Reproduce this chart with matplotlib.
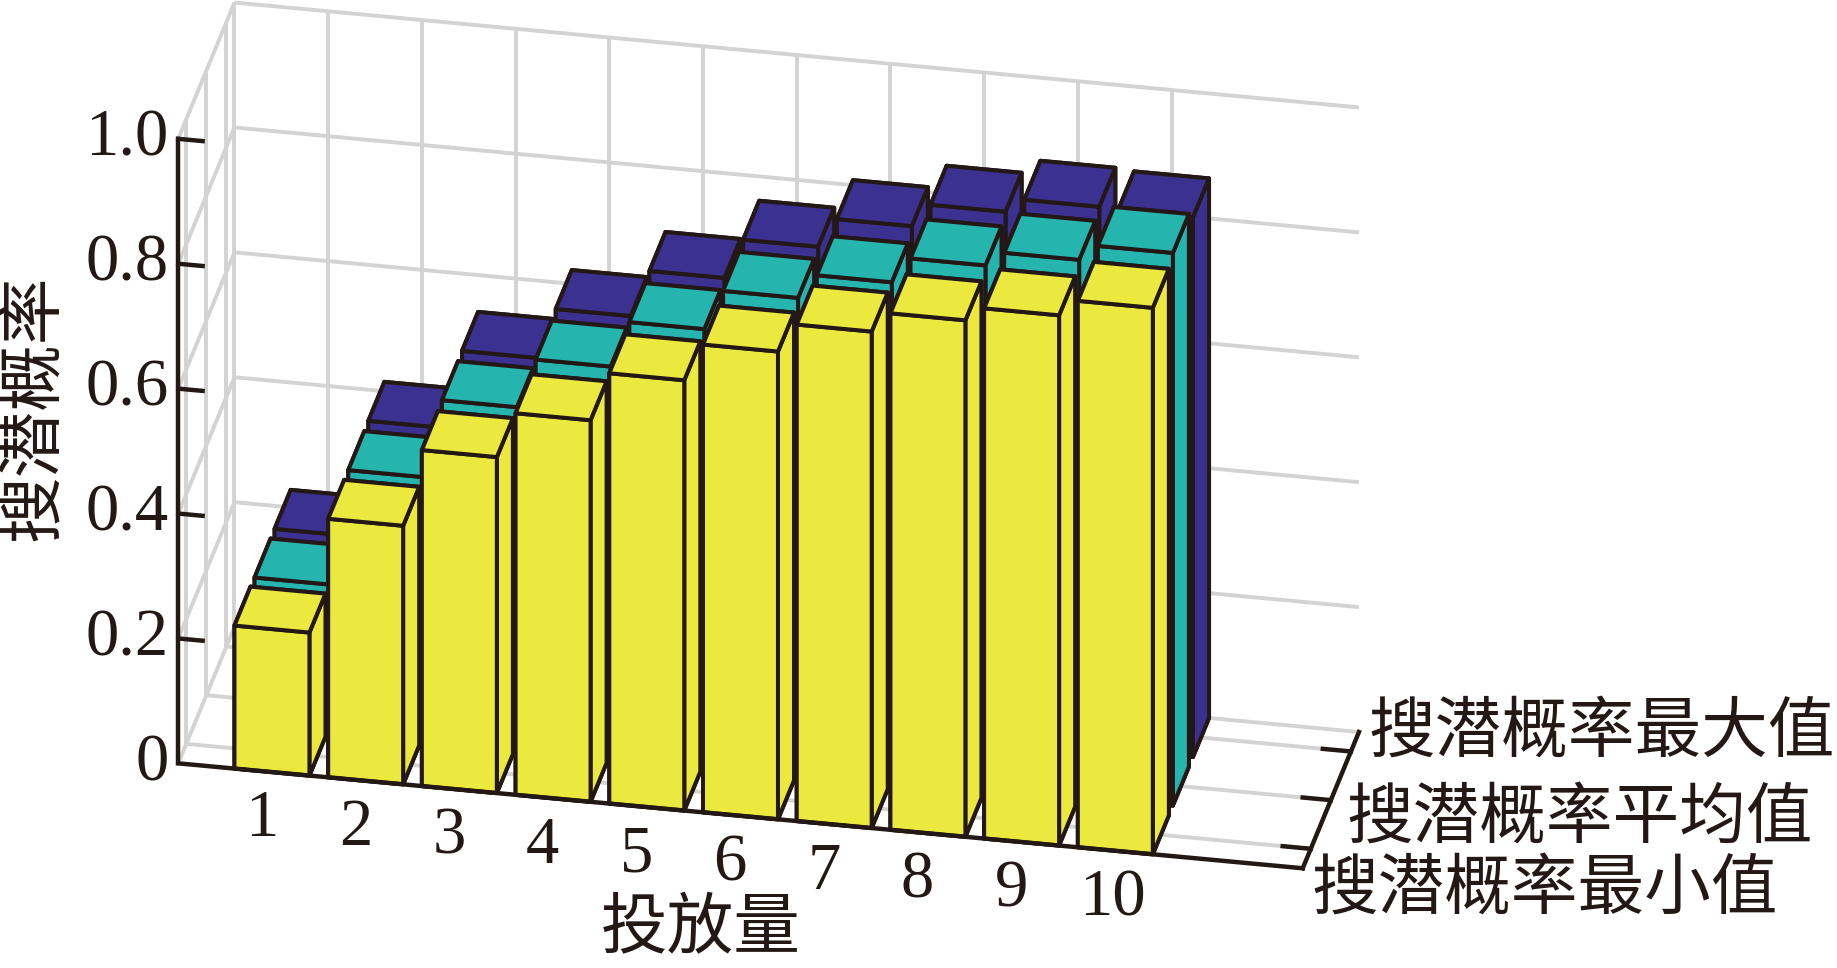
import matplotlib
matplotlib.use("Agg")
import matplotlib.pyplot as plt
from mpl_toolkits.mplot3d import proj3d

CJK = ['Noto Sans CJK SC', 'DejaVu Sans']
SERIF = ['Liberation Serif', 'DejaVu Serif']

doses = [1, 2, 3, 4, 5, 6, 7, 8, 9, 10]
series_names = ['搜潜概率最小值', '搜潜概率平均值', '搜潜概率最大值']
min_vals = [0.229, 0.414, 0.538, 0.611, 0.689, 0.749, 0.795, 0.827, 0.849, 0.875]
mean_vals = [0.228, 0.414, 0.540, 0.619, 0.693, 0.757, 0.796, 0.837, 0.860, 0.885]
max_vals = [0.228, 0.415, 0.541, 0.622, 0.697, 0.761, 0.808, 0.845, 0.867, 0.864]
z_ticks = [0, 0.2, 0.4, 0.6, 0.8, 1.0]
z_labels = ['0', '0.2', '0.4', '0.6', '0.8', '1.0']
x_title = '投放量'
z_title = '搜潜概率'
colors = ['#ECE93E', '#26B4AE', '#3A3190']

INK = '#231815'
GRID = '#D3D3D3'
W, H = 1837, 968
XMIN, XMAX = 0, 12
YMIN, YMAX = 0.6, 3.4
ZMIN, ZMAX = 0, 1

fig = plt.figure(figsize=(W / 100, H / 100), dpi=100, facecolor='white')
S = 1339
ax = fig.add_axes([81 / W, -155 / H, S / W, S / H], projection='3d')
ax.set_proj_type('ortho')
ax.view_init(elev=28.4, azim=-78.9)
ax.set_box_aspect((1146, 292, 710), zoom=1)
ax.set_axis_off()
ax.computed_zorder = False

all_vals = [min_vals, mean_vals, max_vals]
z = 10
for row in [2, 1, 0]:
    for i, d in enumerate(doses):
        ax.bar3d(d - 0.4, row + 1 - 0.4, 0, 0.8, 0.8, all_vals[row][i],
                 color=colors[row], edgecolor=INK, linewidth=2.9,
                 shade=False, zorder=z)
        z += 1


def gline(xs, ys, zs):
    ax.plot(xs, ys, zs, color=GRID, lw=2.8, zorder=1, solid_capstyle='butt')


def iline(xs, ys, zs, lw=3.2):
    ax.plot(xs, ys, zs, color=INK, lw=lw, zorder=100, solid_capstyle='projecting')


for t in z_ticks:
    gline([XMIN, XMIN], [YMIN, YMAX], [t, t])
    gline([XMIN, XMAX], [YMAX, YMAX], [t, t])
gline([XMIN, XMIN], [YMAX, YMAX], [ZMIN, ZMAX])
for d in doses:
    gline([d, d], [YMAX, YMAX], [ZMIN, ZMAX])
    gline([d, d], [YMIN, YMAX], [0, 0])
for r in [1, 2, 3]:
    gline([XMIN, XMIN], [r, r], [ZMIN, ZMAX])
    gline([XMIN, XMAX], [r, r], [0, 0])

iline([XMIN, XMAX], [YMIN, YMIN], [0, 0])
iline([XMAX, XMAX], [YMIN, YMAX], [0, 0])
iline([XMIN, XMIN], [YMIN, YMIN], [ZMIN, ZMAX])
for t in z_ticks[1:]:
    iline([XMIN, XMIN + 0.26], [YMIN, YMIN], [t, t])
for r in [1, 2, 3]:
    iline([XMAX - 0.3, XMAX], [r, r], [0, 0])

ax.set_xlim(XMIN, XMAX, view_margin=0)
ax.set_ylim(YMIN, YMAX, view_margin=0)
ax.set_zlim(ZMIN, ZMAX, view_margin=0)

M = ax.get_proj()


def label(x, y, zv, s, **kw):
    px, py, _ = proj3d.proj_transform(x, y, zv, M)
    ax.text2D(px, py, s, transform=ax.transData, color=INK, zorder=200, **kw)


for d in doses:
    off = 0.03 if d == 10 else 0.11
    label(d - off, YMIN, -0.078, str(d), family=SERIF, fontsize=48, ha='center', va='center')
for t, lab in zip(z_ticks, z_labels):
    label(XMIN - 0.105, YMIN, t - 0.002, lab, family=SERIF, fontsize=48, ha='right', va='center')
y_offsets = [(0.01, -0.065), (0.17, -0.027), (0.19, 0.033)]
for r, name, (dx, dz) in zip([1, 2, 3], series_names, y_offsets):
    label(XMAX + dx, r, dz, name, family=CJK, fontsize=48, ha='left', va='center')

fig.text(598 * 1.1716 / W, 1 - 793 * 1.1716 / H, x_title, family=CJK, fontsize=48,
         color=INK, ha='center', va='center')
fig.text(28 * 1.1716 / W, 1 - 348 * 1.1716 / H, z_title, family=CJK, fontsize=48,
         color=INK, ha='center', va='center', rotation=90)

fig.savefig('out.png', dpi=100, facecolor='white')
